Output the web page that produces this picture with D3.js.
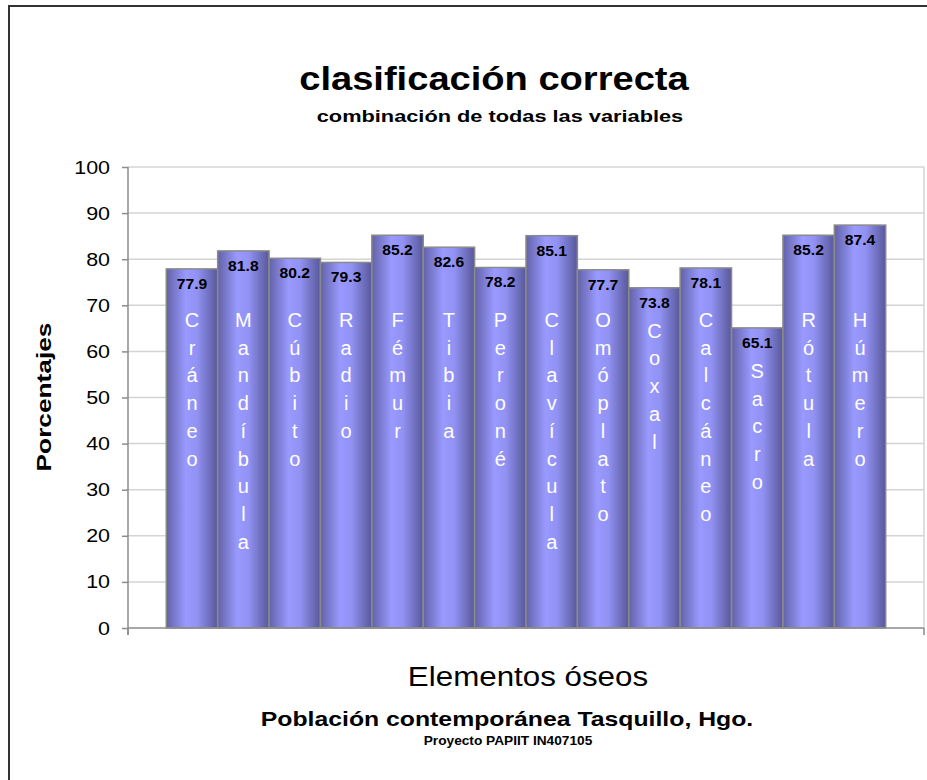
<!DOCTYPE html>
<html>
<head>
<meta charset="utf-8">
<script src="https://cdn.jsdelivr.net/npm/d3@7"></script>
<style>
  body { margin: 0; background: #fff; }
  svg { display: block; font-family: Arial, "Liberation Sans", sans-serif; }
</style>
</head>
<body>
<div id="chart"></div>
<script>
// data
const huesos = ["Cráneo", "Mandíbula", "Cúbito", "Radio", "Fémur", "Tibia", "Peroné",
    "Clavícula", "Omóplato", "Coxal", "Calcáneo", "Sacro", "Rótula", "Húmero"];
const porcentajes = [77.9, 81.8, 80.2, 79.3, 85.2, 82.6, 78.2, 85.1, 77.7, 73.8, 78.1, 65.1, 85.2, 87.4];
const yTicks = [0, 10, 20, 30, 40, 50, 60, 70, 80, 90, 100];

const width = 927, height = 780;
const plot = {left: 128, right: 924, top: 167, bottom: 628};

// the original text is a little wider than Arial
function widen(sel, k) {
    sel.each(function () {
        let len = this.getComputedTextLength();
        d3.select(this)
            .attr("textLength", len * k)
            .attr("lengthAdjust", "spacingAndGlyphs");
    });
}

const svg = d3.select("#chart")
    .append("svg")
    .attr("width", width)
    .attr("height", height);

// outer frame
svg.append("rect")
    .attr("x", 9).attr("y", 6)
    .attr("width", 940).attr("height", 800)
    .attr("fill", "none")
    .attr("stroke", "#333")
    .attr("stroke-width", 2);

let defs = svg.append("defs");
let grad = defs.append("linearGradient")
    .attr("id", "barGrad")
    .attr("x1", "0%").attr("x2", "100%")
    .attr("y1", "0%").attr("y2", "0%");
grad.append("stop").attr("offset", "0%").attr("stop-color", "#6262a8");
grad.append("stop").attr("offset", "38%").attr("stop-color", "#9999ff");
grad.append("stop").attr("offset", "60%").attr("stop-color", "#9292f4");
grad.append("stop").attr("offset", "100%").attr("stop-color", "#58589a");

let x = d3.scaleBand()
    .domain(huesos)
    .range([plot.left, plot.right])
    .paddingInner(0)
    .paddingOuter(0.745);

let y = d3.scaleLinear()
    .domain([0, 100])
    .range([plot.bottom, plot.top]);

// gridlines
svg.append("g")
    .selectAll("line")
    .data(yTicks.filter(d => d > 0))
    .enter().append("line")
    .attr("x1", plot.left).attr("x2", plot.right)
    .attr("y1", d => y(d)).attr("y2", d => y(d))
    .attr("stroke", "#d4d4d4")
    .attr("stroke-width", 1.5);

// plot area right border
svg.append("line")
    .attr("x1", plot.right).attr("x2", plot.right)
    .attr("y1", plot.top).attr("y2", plot.bottom)
    .attr("stroke", "#d4d4d4")
    .attr("stroke-width", 1.5);

// y axis
let yAxis = svg.append("g")
    .attr("transform", `translate(${plot.left},0)`)
    .call(d3.axisLeft(y).tickValues(yTicks).tickSize(6).tickPadding(12));
yAxis.select(".domain").attr("stroke", "#8c8c8c").attr("stroke-width", 1.5)
    .attr("d", `M0,${plot.top}V${plot.bottom + 7}`);
yAxis.selectAll(".tick line").attr("stroke", "#8c8c8c").attr("stroke-width", 1.5);
yAxis.selectAll(".tick text")
    .attr("font-size", 19)
    .attr("font-family", "Arial, 'Liberation Sans', sans-serif")
    .attr("fill", "#000")
    .call(widen, 1.13);

// bars
svg.append("g")
    .selectAll(".bar")
    .data(huesos)
    .enter().append("rect")
    .attr("class", "bar")
    .attr("x", d => x(d))
    .attr("y", (d, i) => y(porcentajes[i]))
    .attr("width", x.bandwidth())
    .attr("height", (d, i) => plot.bottom - y(porcentajes[i]))
    .attr("fill", "url(#barGrad)")
    .attr("stroke", "#8a8a8a")
    .attr("stroke-width", 1.5);

// x axis line
svg.append("path")
    .attr("d", `M${plot.left},${plot.bottom}H${plot.right}M${plot.left},${plot.bottom}V${plot.bottom + 7}M${plot.right},${plot.bottom}V${plot.bottom + 7}`)
    .attr("stroke", "#8c8c8c")
    .attr("stroke-width", 1.5)
    .attr("fill", "none");

// value labels
svg.append("g")
    .selectAll("text")
    .data(huesos)
    .enter().append("text")
    .attr("x", d => x(d) + x.bandwidth() / 2)
    .attr("y", (d, i) => y(porcentajes[i]) + 20)
    .attr("text-anchor", "middle")
    .attr("font-size", 14)
    .attr("font-weight", "bold")
    .attr("fill", "#000")
    .text((d, i) => porcentajes[i].toFixed(1))
    .call(widen, 1.12);

// vertical names inside bars
let names = svg.append("g")
    .selectAll("text")
    .data(huesos)
    .enter().append("text")
    .attr("text-anchor", "middle")
    .attr("font-size", 20)
    .attr("fill", "#fff");
names.each(function (d, i) {
    let cx = x(d) + x.bandwidth() / 2;
    let start = Math.max(327, y(porcentajes[i]) + 50);
    let t = d3.select(this);
    Array.from(d).forEach((ch, k) => {
        t.append("tspan")
            .attr("x", cx)
            .attr("y", start + k * 27.7)
            .text(ch);
    });
});

// titles
svg.append("text")
    .attr("x", 494).attr("y", 90)
    .attr("text-anchor", "middle")
    .attr("font-size", 34)
    .attr("font-weight", "bold")
    .text("clasificación correcta")
    .call(widen, 1.12);

svg.append("text")
    .attr("x", 500).attr("y", 122)
    .attr("text-anchor", "middle")
    .attr("font-size", 17)
    .attr("font-weight", "bold")
    .text("combinación de todas las variables")
    .call(widen, 1.28);

svg.append("text")
    .attr("transform", "translate(51,397) rotate(-90)")
    .attr("text-anchor", "middle")
    .attr("font-size", 21)
    .attr("font-weight", "bold")
    .text("Porcentajes")
    .call(widen, 1.25);

svg.append("text")
    .attr("x", 528).attr("y", 686)
    .attr("text-anchor", "middle")
    .attr("font-size", 27)
    .text("Elementos óseos")
    .call(widen, 1.16);

svg.append("text")
    .attr("x", 507).attr("y", 726)
    .attr("text-anchor", "middle")
    .attr("font-size", 21)
    .attr("font-weight", "bold")
    .text("Población contemporánea Tasquillo, Hgo.")
    .call(widen, 1.18);

svg.append("text")
    .attr("x", 508).attr("y", 745)
    .attr("text-anchor", "middle")
    .attr("font-size", 12)
    .attr("font-weight", "bold")
    .text("Proyecto PAPIIT IN407105")
    .call(widen, 1.14);
</script>
</body>
</html>
